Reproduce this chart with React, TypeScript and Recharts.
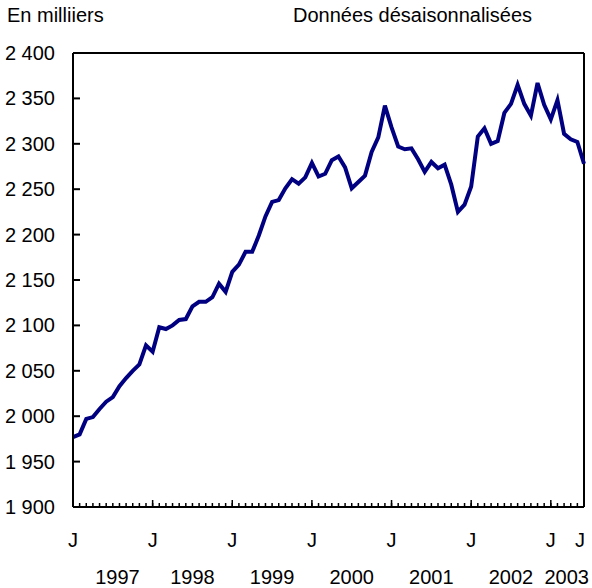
import { Line, LineChart, ReferenceLine, XAxis, YAxis } from "recharts";

// Employment, thousands, seasonally adjusted — Jan 1997 to Jun 2003
const values = [
  1977, 1980, 1997, 1999, 2008, 2016, 2021, 2033, 2042, 2050, 2057, 2078,
  2071, 2098, 2096, 2100, 2106, 2107, 2121, 2126, 2126, 2131, 2146, 2137,
  2159, 2167, 2181, 2181, 2199, 2220, 2236, 2238, 2251, 2261, 2256, 2263,
  2279, 2264, 2267, 2282, 2286, 2274, 2251, 2258, 2265, 2291, 2307, 2342,
  2318, 2297, 2294, 2295, 2283, 2269, 2280, 2273, 2277, 2255, 2225, 2233,
  2253, 2308, 2317, 2300, 2303, 2334, 2344, 2365, 2344, 2331, 2367, 2343,
  2327, 2348, 2311, 2305, 2302, 2278,
];

const months = values.map(
  (_, i) => `${1997 + Math.floor(i / 12)}-${String((i % 12) + 1).padStart(2, "0")}`
);

const yTicks = [1900, 1950, 2000, 2050, 2100, 2150, 2200, 2250, 2300, 2350, 2400];
const jTicks = [0, 12, 24, 36, 48, 60, 72, 77];
const yearLabels = ["1997", "1998", "1999", "2000", "2001", "2002", "2003"];
const yearTicks = [6.7, 18, 30, 42, 54, 66, 74.4];

const data = months.map((m, i) => ({ i, m, value: values[i] }));
const monthTicks = data.map((d) => d.i);
const lastIndex = data.length - 1;

const FONT = "'Liberation Sans', Arial, sans-serif";

const fmt = (v: number) => {
  const s = String(v);
  return s.length > 3 ? s.slice(0, s.length - 3) + " " + s.slice(-3) : s;
};

const YTick = (props: any) => {
  const { x, y, payload } = props;
  return (
    <text x={x - 18} y={y + 7} textAnchor="end" fontSize={20} fontFamily={FONT} fill="#000">
      {fmt(payload.value)}
    </text>
  );
};

const MonthTick = (props: any) => {
  const { x, y, payload } = props;
  const idx = payload.value;
  const isJan = idx % 12 === 0 && idx > 0;
  const isLast = idx === lastIndex;
  return (
    <g>
      {isJan && <path d={`M${x},${y}V${y - 7}`} stroke="#000" strokeWidth={1.5} />}
      {jTicks.includes(idx) && (
        <text
          x={isLast ? x - 4 : x}
          y={y + 40}
          textAnchor="middle"
          fontSize={20}
          fontFamily={FONT}
          fill="#000"
        >
          J
        </text>
      )}
    </g>
  );
};

const YearTick = (props: any) => {
  const { x, y, index } = props;
  return (
    <text x={x} y={y + 27} textAnchor="middle" fontSize={20} fontFamily={FONT} fill="#000">
      {yearLabels[index]}
    </text>
  );
};

export default function App() {
  const textStyle = {
    position: "absolute" as const,
    top: 3,
    fontFamily: FONT,
    fontSize: 20,
    color: "#000",
    lineHeight: "24px",
  };
  return (
    <div style={{ position: "absolute", left: 0, top: 0, width: 592, height: 588, background: "#fff" }}>
      <div style={{ ...textStyle, left: 7 }}>En milliiers</div>
      <div style={{ ...textStyle, left: 293 }}>Données désaisonnalisées</div>
      <LineChart
        width={592}
        height={588}
        data={data}
        margin={{ top: 53, right: 8, bottom: 0, left: 0 }}
      >
        <XAxis
          dataKey="i"
          type="number"
          domain={[0, lastIndex]}
          ticks={monthTicks}
          interval={0}
          tick={<MonthTick />}
          tickLine={{ stroke: "#000", strokeWidth: 1.5 }}
          tickSize={-4}
          tickMargin={4}
          axisLine={{ stroke: "#000", strokeWidth: 2 }}
          height={50}
        />
        <XAxis
          xAxisId="yr"
          dataKey="i"
          type="number"
          domain={[0, lastIndex]}
          ticks={yearTicks}
          interval={0}
          tick={<YearTick />}
          tickLine={false}
          tickSize={0}
          tickMargin={0}
          axisLine={false}
          height={31}
        />
        <YAxis
          type="number"
          domain={[1900, 2400]}
          ticks={yTicks}
          interval={0}
          width={73}
          tick={<YTick />}
          tickLine={{ stroke: "#000", strokeWidth: 2 }}
          tickSize={-7}
          tickMargin={7}
          axisLine={{ stroke: "#000", strokeWidth: 2 }}
        />
        <ReferenceLine y={2400} stroke="#000" strokeWidth={2} />
        <ReferenceLine x={lastIndex} stroke="#000" strokeWidth={2} />
        <Line
          type="linear"
          dataKey="value"
          stroke="#000080"
          strokeWidth={4}
          dot={false}
          isAnimationActive={false}
        />
      </LineChart>
    </div>
  );
}
